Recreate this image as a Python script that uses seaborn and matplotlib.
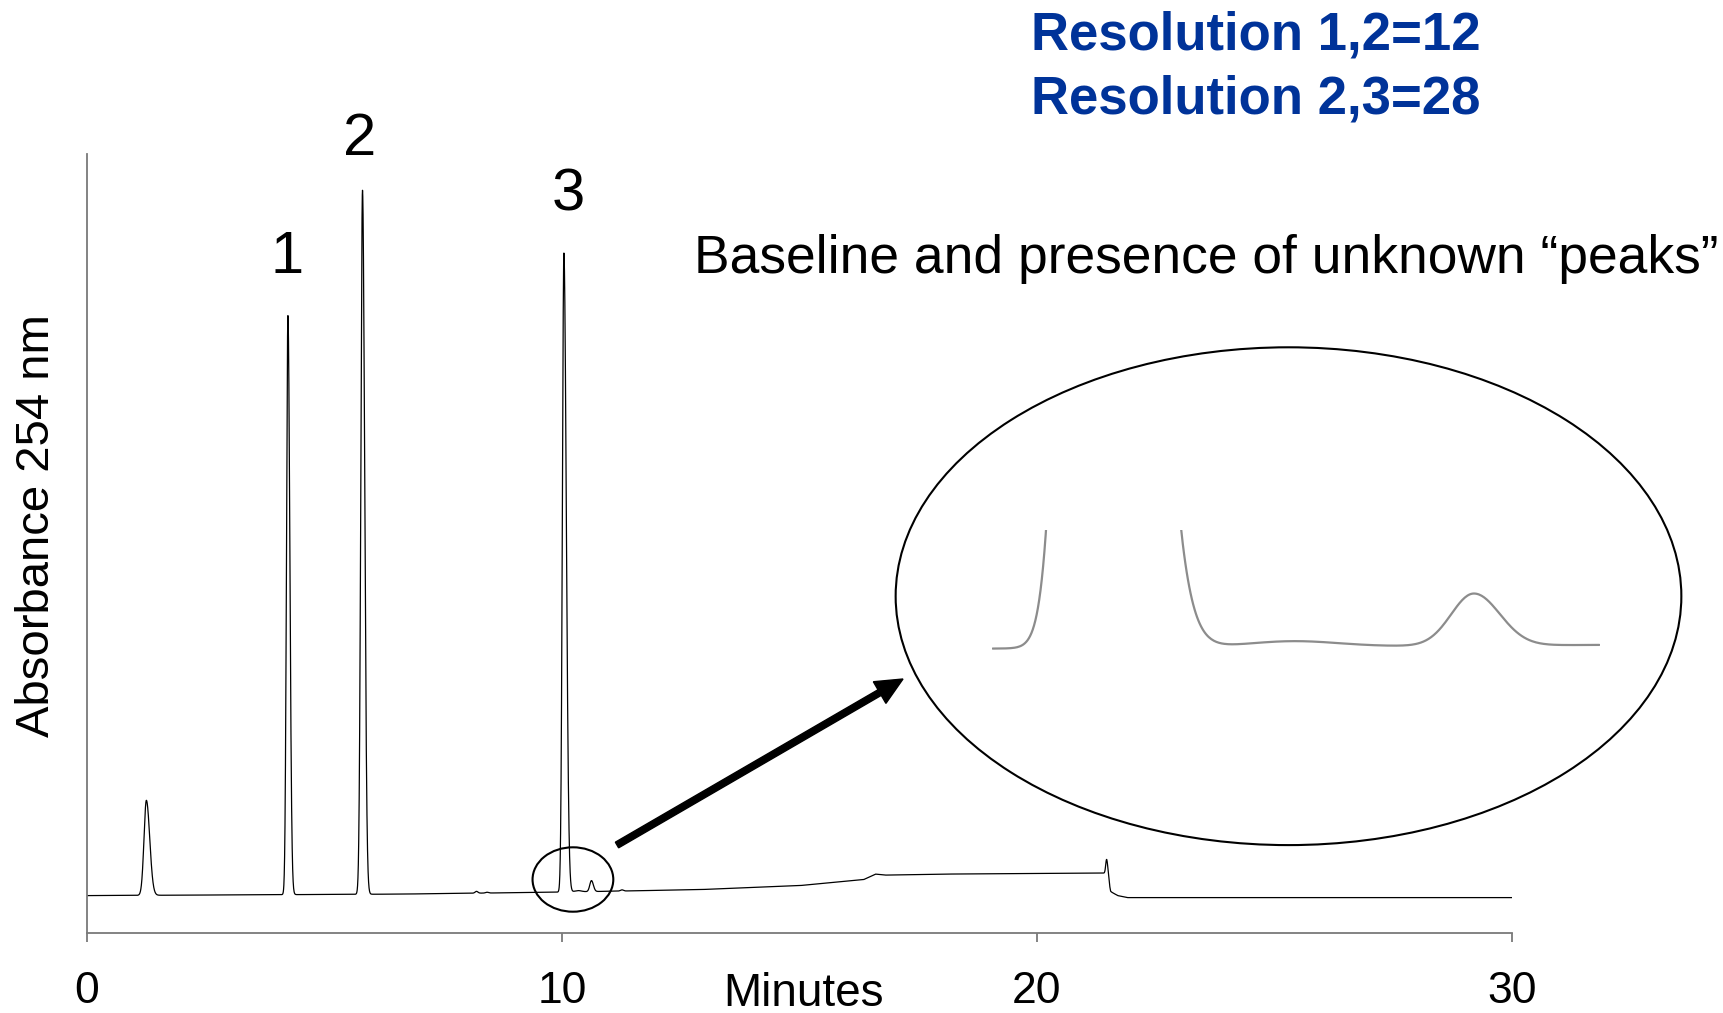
import numpy as np
import pandas as pd
import seaborn as sns
import matplotlib
matplotlib.use("Agg")
import matplotlib.pyplot as plt
from matplotlib.patches import Ellipse, FancyArrow

# Peak table: retention time (min), height (mAU), leading / trailing widths (min)
peak_times = [1.25, 4.23, 5.80, 8.20, 8.42, 10.04, 10.34, 10.62, 11.26, 21.47]
peak_heights = [95, 579, 704, 1.8, 0.8, 639, 1.2, 11, 1.2, 17]
peak_sigma_lead = [0.05, 0.03, 0.035, 0.03, 0.03, 0.032, 0.07, 0.035, 0.03, 0.02]
peak_sigma_tail = [0.07, 0.04, 0.045, 0.03, 0.03, 0.05, 0.07, 0.04, 0.03, 0.03]

# Baseline drift along the run (min, mAU)
drift_times = [0, 6.6, 10.0, 12.9, 15.0, 16.35, 16.6, 16.8, 18.0, 21.45, 21.55, 21.7, 21.9, 30]
drift_levels = [0, 1.5, 3.5, 6, 10, 16, 21.5, 20.5, 21.5, 22.5, 4, 0, -2, -2]

# Numbered analyte peaks
peak_labels = ["1", "2", "3"]
peak_label_x = [4.22, 5.73, 10.13]
peak_label_y = [623, 741, 684.8]

x_ticks = [0, 10, 20, 30]
resolution_lines = ["Resolution 1,2=12", "Resolution 2,3=28"]

# Build the detector trace from the peak table
t = np.linspace(0, 30, 15001)
signal = np.interp(t, drift_times, drift_levels)
for rt, h, sl, st in zip(peak_times, peak_heights, peak_sigma_lead, peak_sigma_tail):
    s = np.where(t < rt, sl, st)
    signal = signal + h * np.exp(-0.5 * ((t - rt) / s) ** 2)
trace = pd.DataFrame({"Minutes": t, "Absorbance": signal})

sns.set_theme(style="white")
plt.rcParams["font.family"] = ["Liberation Sans", "DejaVu Sans"]

fig = plt.figure(figsize=(17.23, 10.13), dpi=100)
ax = fig.add_axes([87 / 1723, 80 / 1013, 1425 / 1723, 779 / 1013])

sns.lineplot(data=trace, x="Minutes", y="Absorbance", ax=ax, color="black",
             lw=0.9, estimator=None, sort=False)
ax.set_xlim(0, 30)
ax.set_ylim(-37.4, 741.6)
ax.set_xticks(x_ticks)
ax.set_xticklabels([str(v) for v in x_ticks])
ax.set_yticks([])
for side in ["top", "right"]:
    ax.spines[side].set_visible(False)
for side in ["left", "bottom"]:
    ax.spines[side].set_color("#7a7a7a")
    ax.spines[side].set_linewidth(1.3)
ax.tick_params(axis="x", bottom=True, direction="out", length=6.5, width=1.3,
               color="#7a7a7a", labelcolor="black", labelsize=32, pad=21)
ax.set_xlabel("Minutes", fontsize=33, color="black")
ax.xaxis.set_label_coords(0.503, -0.0505)
ax.set_ylabel("Absorbance 254 nm", fontsize=34, color="black")
ax.yaxis.set_label_coords(-0.0198, 0.5225)

for lab, lx, ly in zip(peak_labels, peak_label_x, peak_label_y):
    ax.text(lx, ly, lab, fontsize=43, ha="center", va="baseline", color="black")

# Small circle around peak 3 and the trace just after it
ax.add_patch(Ellipse((10.23, 16.1), 1.70, 64.4, fill=False, ec="black", lw=1.5))

# Arrow leading to the magnified view
fig.add_artist(FancyArrow(6.17, 1.68, 2.86, 1.66, width=0.065, head_width=0.25,
                          head_length=0.27, length_includes_head=True,
                          color="black", transform=fig.dpi_scale_trans))

# Magnified view inside the large ellipse
fig.add_artist(Ellipse((1288.5 / 1723, 1 - 596.2 / 1013), 785.7 / 1723, 497.8 / 1013,
                       fill=False, ec="black", lw=1.5, transform=fig.transFigure))
zoom_lo, zoom_hi = 9.875, 10.815
sub = trace[(trace["Minutes"] >= zoom_lo) & (trace["Minutes"] <= zoom_hi)]
b0 = sub["Absorbance"].iloc[0]
ax_in = fig.add_axes([992 / 1723, 1 - 696 / 1013, 608 / 1723, 166 / 1013])
sns.lineplot(data=sub, x="Minutes", y="Absorbance", ax=ax_in, color="#8c8c8c",
             lw=1.6, estimator=None, sort=False)
ax_in.set_xlim(zoom_lo, zoom_hi)
ax_in.set_ylim(b0 - 10, b0 + 25)
ax_in.axis("off")

fig.text(694.5 / 1723, 1 - 272.5 / 1013,
         "Baseline and presence of unknown \u201cpeaks\u201d",
         fontsize=38.4, ha="left", va="baseline", color="black")
for i, line in enumerate(resolution_lines):
    fig.text(1031 / 1723, 1 - (49.4 + 63.8 * i) / 1013, line, fontsize=38,
             fontweight="bold", ha="left", va="baseline", color="#003399")

fig.savefig("out.png", dpi=100)
